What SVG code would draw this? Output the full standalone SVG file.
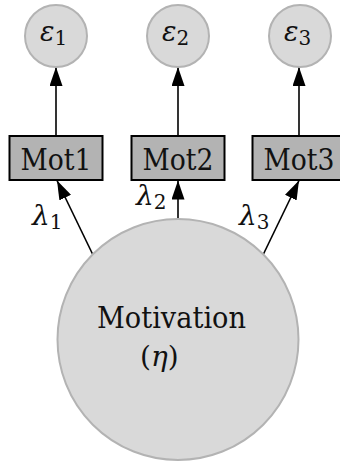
<svg xmlns="http://www.w3.org/2000/svg" width="340" height="464" viewBox="0 0 340 464" font-family="'DejaVu Serif', serif">
  <defs>
    <marker id="arrow" viewBox="0 0 19 13" refX="19" refY="6.5" markerWidth="19" markerHeight="13" markerUnits="userSpaceOnUse" orient="auto">
      <path d="M0,0 L19,6.5 L0,13 Z" fill="#000"/>
    </marker>
    <style>
      .edge { stroke: #000; stroke-width: 1.6; fill: none; marker-end: url(#arrow); }
      .latent { fill: #d9d9d9; stroke: #b3b3b3; stroke-width: 2; }
      .obs { fill: #b3b3b3; stroke: #000; stroke-width: 2; }
      text { fill: #111; }
      .it { font-style: italic; }
    </style>
  </defs>

  <!-- connectors -->
  <g id="connectors">
    <line class="edge" x1="56" y1="136" x2="56" y2="67"/>
    <line class="edge" x1="178" y1="136" x2="178" y2="67"/>
    <line class="edge" x1="299" y1="136" x2="299" y2="67"/>
    <line class="edge" x1="93" y1="255" x2="57" y2="180.5"/>
    <line class="edge" x1="178" y1="221" x2="178" y2="180.5"/>
    <line class="edge" x1="263" y1="255" x2="299" y2="180.5"/>
    <text x="32" y="225" font-size="28"><tspan class="it">λ</tspan><tspan font-size="20" dy="4">1</tspan></text>
    <text x="136" y="205" font-size="28"><tspan class="it">λ</tspan><tspan font-size="20" dy="4">2</tspan></text>
    <text x="239" y="225" font-size="28"><tspan class="it">λ</tspan><tspan font-size="20" dy="4">3</tspan></text>
  </g>

  <!-- error terms -->
  <g id="e1">
    <circle class="latent" cx="56" cy="36" r="31"/>
    <text x="40" y="41" font-size="27"><tspan class="it">ε</tspan><tspan font-size="20" dy="4">1</tspan></text>
  </g>
  <g id="e2">
    <circle class="latent" cx="178" cy="36" r="31"/>
    <text x="162" y="41" font-size="27"><tspan class="it">ε</tspan><tspan font-size="20" dy="4">2</tspan></text>
  </g>
  <g id="e3">
    <circle class="latent" cx="300" cy="36" r="31"/>
    <text x="284" y="41" font-size="27"><tspan class="it">ε</tspan><tspan font-size="20" dy="4">3</tspan></text>
  </g>

  <!-- indicators -->
  <g id="mot1">
    <rect class="obs" x="9.5" y="136" width="93" height="44"/>
    <text x="56" y="170" font-size="29" text-anchor="middle" textLength="71" lengthAdjust="spacingAndGlyphs">Mot1</text>
  </g>
  <g id="mot2">
    <rect class="obs" x="131.5" y="136" width="93" height="44"/>
    <text x="178" y="170" font-size="29" text-anchor="middle" textLength="71" lengthAdjust="spacingAndGlyphs">Mot2</text>
  </g>
  <g id="mot3">
    <rect class="obs" x="252.5" y="136" width="93" height="44"/>
    <text x="299" y="170" font-size="29" text-anchor="middle" textLength="71" lengthAdjust="spacingAndGlyphs">Mot3</text>
  </g>

  <!-- latent factor -->
  <g id="motivation">
    <circle class="latent" cx="178" cy="339.5" r="120.5"/>
    <text x="97" y="328" font-size="29" textLength="149" lengthAdjust="spacingAndGlyphs">Motivation</text>
    <text x="140" y="366" font-size="28">(<tspan class="it">η</tspan>)</text>
  </g>
</svg>
